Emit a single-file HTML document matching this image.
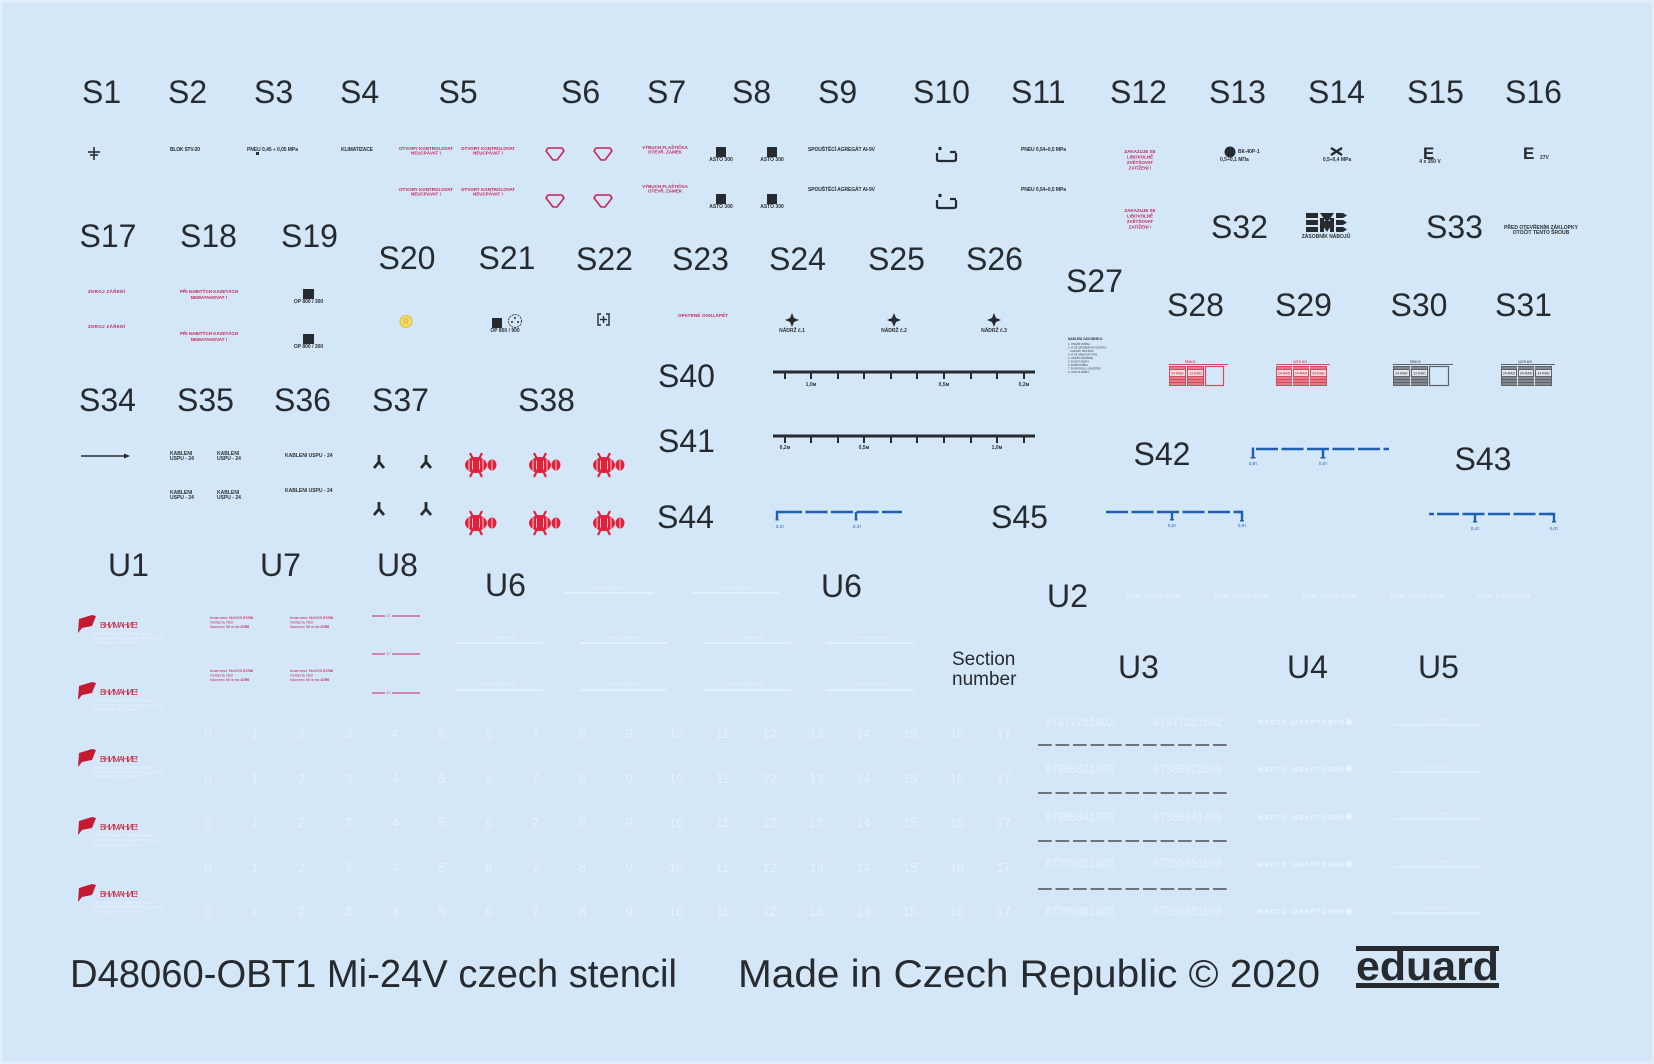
<!DOCTYPE html>
<html><head><meta charset="utf-8"><style>
html,body{margin:0;padding:0;background:#d4e7f8}
svg{display:block}
.L{font-family:"Liberation Sans",sans-serif;font-size:32px;fill:#272b30}
.t{font-family:"Liberation Sans",sans-serif;font-size:5px;fill:#2b2f33;font-weight:bold}
.r{font-family:"Liberation Sans",sans-serif;font-size:4.5px;fill:#c8245a;font-weight:bold}
.n{font-family:"Liberation Sans",sans-serif;font-size:13px;fill:#e6f1fb;text-anchor:middle}
.bt{font-family:"Liberation Sans",sans-serif;font-size:4.5px;fill:#1f5fae;text-anchor:middle}
</style></head><body>
<svg width="1654" height="1064" viewBox="0 0 1654 1064" xmlns="http://www.w3.org/2000/svg">
<rect x="0" y="0" width="1654" height="1064" fill="#d4e7f8"/>
<rect x="1" y="1" width="1652" height="1062" fill="none" stroke="#e2effb" stroke-width="2.5"/>

<!-- Row 1 labels -->
<text class="L" x="82" y="103">S1</text>
<text class="L" x="168" y="103">S2</text>
<text class="L" x="254" y="103">S3</text>
<text class="L" x="340" y="103">S4</text>
<text class="L" x="438.5" y="103">S5</text>
<text class="L" x="561" y="103">S6</text>
<text class="L" x="647" y="103">S7</text>
<text class="L" x="732" y="103">S8</text>
<text class="L" x="818" y="103">S9</text>
<text class="L" x="913" y="103">S10</text>
<text class="L" x="1011" y="103">S11</text>
<text class="L" x="1110" y="103">S12</text>
<text class="L" x="1209" y="103">S13</text>
<text class="L" x="1308" y="103">S14</text>
<text class="L" x="1407" y="103">S15</text>
<text class="L" x="1505" y="103">S16</text>

<!-- Row 1 items -->
<g stroke="#2b2f33" stroke-width="1.6">
<line x1="94" y1="147" x2="94" y2="160"/><line x1="88" y1="152" x2="100" y2="152"/><line x1="90" y1="155" x2="98" y2="155"/>
</g>
<text class="t" x="170" y="151" textLength="30">BLOK STV-20</text>
<text class="t" x="247" y="151" textLength="51">PNEU 0,45 ÷ 0,05 MPa</text>
<rect x="256" y="152" width="3" height="3" fill="#2b2f33"/>
<text class="t" x="341" y="151" textLength="32">KLIMATIZACE</text>
<g class="r" text-anchor="middle" font-size="3.8">
<text x="426" y="150">OTVORY KONTROLOVAT</text><text x="426" y="154.5">NEUCPÁVAT !</text>
<text x="488" y="150">OTVORY KONTROLOVAT</text><text x="488" y="154.5">NEUCPÁVAT !</text>
<text x="426" y="191">OTVORY KONTROLOVAT</text><text x="426" y="195.5">NEUCPÁVAT !</text>
<text x="488" y="191">OTVORY KONTROLOVAT</text><text x="488" y="195.5">NEUCPÁVAT !</text>
<text x="665" y="149">VÝBUCH FLAŠTIČKA</text><text x="665" y="153.5">OTEVŘ. ZÁMEK</text>
<text x="665" y="188">VÝBUCH FLAŠTIČKA</text><text x="665" y="192.5">OTEVŘ. ZÁMEK</text>
</g>
<g fill="none" stroke="#c8245a" stroke-width="1.6" stroke-linejoin="round">
<polygon points="548,148 562,148 564,151 557,160 553,160 546,151"/>
<polygon points="596,148 610,148 612,151 605,160 601,160 594,151"/>
<polygon points="548,195 562,195 564,198 557,207 553,207 546,198"/>
<polygon points="596,195 610,195 612,198 605,207 601,207 594,198"/>
</g>
<g fill="#272b30">
<rect x="716" y="147" width="10" height="10"/><rect x="767" y="147" width="10" height="10"/>
<rect x="716" y="194" width="10" height="10"/><rect x="767" y="194" width="10" height="10"/>
</g>
<g class="t" font-size="3" text-anchor="middle">
<text x="721" y="161">ASTO 300</text><text x="772" y="161">ASTO 300</text>
<text x="721" y="208">ASTO 300</text><text x="772" y="208">ASTO 300</text>
</g>
<text class="t" x="808" y="151" textLength="67">SPOUŠTĚCÍ AGREGÁT  AI-9V</text>
<text class="t" x="808" y="191" textLength="67">SPOUŠTĚCÍ AGREGÁT  AI-9V</text>
<g fill="none" stroke="#272b30" stroke-width="2.2">
<path d="M937,153 L937,159 Q937,161 939,161 L954,161 Q956,161 956,159 L956,153"/>
<line x1="950" y1="152" x2="956" y2="152"/>
<path d="M937,200 L937,206 Q937,208 939,208 L954,208 Q956,208 956,206 L956,200"/>
<line x1="950" y1="199" x2="956" y2="199"/>
</g>
<circle cx="940" cy="148.5" r="1.7" fill="#272b30"/><circle cx="940" cy="195.5" r="1.7" fill="#272b30"/>
<text class="t" x="1021" y="151" textLength="45">PNEU 0,54÷0,5 MPa</text>
<text class="t" x="1021" y="191" textLength="45">PNEU 0,54÷0,5 MPa</text>
<g class="r" text-anchor="middle" font-size="5.5">
<text x="1140" y="153">ZAKAZUJE SE</text><text x="1140" y="158.5">LIBOVOLNĚ</text><text x="1140" y="164">ZVĚTŠOVAT</text><text x="1140" y="169.5">ZATÍŽENÍ !</text>
<text x="1140" y="212">ZAKAZUJE SE</text><text x="1140" y="217.5">LIBOVOLNĚ</text><text x="1140" y="223">ZVĚTŠOVAT</text><text x="1140" y="228.5">ZATÍŽENÍ !</text>
</g>
<circle cx="1230" cy="152" r="5.5" fill="#272b30"/>
<text class="t" font-size="3" x="1238" y="153">ВК-40Р-1</text>
<text class="t" font-size="3" x="1220" y="161">0,5+0,1 МПа</text>
<g stroke="#272b30" stroke-width="2.4"><line x1="1331" y1="148" x2="1342" y2="155"/><line x1="1342" y1="148" x2="1331" y2="155"/></g>
<text class="t" font-size="3" x="1337" y="161" text-anchor="middle">0,5÷0,4 MPa</text>
<text x="1423" y="159" font-family="Liberation Sans" font-weight="bold" font-size="17" fill="#272b30">E</text>
<text class="t" font-size="3" x="1430" y="163" text-anchor="middle">4 x 350 V</text>
<text x="1523" y="159" font-family="Liberation Sans" font-weight="bold" font-size="17" fill="#272b30">E</text>
<text class="t" font-size="3" x="1540" y="159">27V</text>

<!-- Row 2 labels -->
<text class="L" x="79.5" y="247">S17</text>
<text class="L" x="180" y="247">S18</text>
<text class="L" x="281" y="247">S19</text>
<text class="L" x="378.5" y="269">S20</text>
<text class="L" x="478.5" y="269">S21</text>
<text class="L" x="576" y="270">S22</text>
<text class="L" x="672" y="270">S23</text>
<text class="L" x="769" y="270">S24</text>
<text class="L" x="868" y="270">S25</text>
<text class="L" x="966" y="270">S26</text>
<text class="L" x="1066" y="292">S27</text>
<text class="L" x="1167" y="316">S28</text>
<text class="L" x="1275" y="316">S29</text>
<text class="L" x="1390.5" y="316">S30</text>
<text class="L" x="1495" y="316">S31</text>
<text class="L" x="1211" y="238">S32</text>
<text class="L" x="1426" y="238">S33</text>

<!-- Row 2 items -->
<text class="r" font-size="5.5" x="88" y="293" textLength="37">ZDROJ  ZÁŘENÍ</text>
<text class="r" font-size="5.5" x="88" y="328" textLength="37">ZDROJ  ZÁŘENÍ</text>
<g class="r" font-size="5.5" text-anchor="middle">
<text x="209" y="293">PŘI NABITÝCH KAZETÁCH</text><text x="209" y="299">NEMATAHOVAT !</text>
<text x="209" y="335">PŘI NABITÝCH KAZETÁCH</text><text x="209" y="341">NEMATAHOVAT !</text>
</g>
<rect x="303" y="289" width="11" height="10" fill="#272b30"/>
<rect x="303" y="334" width="11" height="10" fill="#272b30"/>
<text class="t" font-size="3" x="308.5" y="303" text-anchor="middle">OP 800 / 300</text>
<text class="t" font-size="3" x="308.5" y="348" text-anchor="middle">OP 800 / 300</text>
<circle cx="406" cy="321.5" r="6" fill="#f2dc6a" stroke="#dcbc34" stroke-width="1"/>
<text x="406" y="324.5" font-family="Liberation Sans" font-size="8" fill="#d8a820" text-anchor="middle">R</text>
<rect x="492" y="318" width="10" height="10" fill="#272b30"/>
<circle cx="515" cy="321" r="6.5" fill="none" stroke="#272b30" stroke-width="0.9" stroke-dasharray="2 1"/>
<circle cx="515" cy="318" r="1" fill="#272b30"/><circle cx="512" cy="322" r="1" fill="#272b30"/><circle cx="518" cy="322" r="1" fill="#272b30"/>
<text class="t" font-size="3" x="505" y="332" text-anchor="middle">OP 800 / 900</text>
<g fill="none" stroke="#272b30" stroke-width="1.4">
<path d="M601,314 L598,314 L598,325 L601,325"/><path d="M606,314 L609,314 L609,325 L606,325"/>
<line x1="603.5" y1="316" x2="603.5" y2="323"/><line x1="600" y1="319.5" x2="607" y2="319.5"/>
</g>
<text class="r" font-size="5.5" x="678" y="317" textLength="50">OPATRNĚ OOKLÁPĚT</text>
<g fill="#272b30">
<path d="M792,313 L794,318 L799,320 L794,322 L792,327 L790,322 L785,320 L790,318 Z"/>
<path d="M894,313 L896,318 L901,320 L896,322 L894,327 L892,322 L887,320 L892,318 Z"/>
<path d="M994,313 L996,318 L1001,320 L996,322 L994,327 L992,322 L987,320 L992,318 Z"/>
</g>
<g class="t" font-size="3" text-anchor="middle">
<text x="792" y="332">NÁDRŽ č.1</text><text x="894" y="332">NÁDRŽ č.2</text><text x="994" y="332">NÁDRŽ č.3</text>
</g>
<!-- S32 -->
<g fill="#272b30">
<rect x="1306" y="213" width="12" height="5"/><rect x="1306" y="220" width="12" height="5"/><rect x="1306" y="227" width="12" height="5"/>
<path d="M1320,213 L1334,213 L1327,223 Z"/><path d="M1320,221 L1334,221 L1327,232 Z"/>
<rect x="1320" y="218" width="4" height="14"/><rect x="1330" y="218" width="4" height="14"/>
<path d="M1336,213 L1343,213 L1347,215.5 L1343,218 L1336,218 Z"/>
<path d="M1336,220 L1343,220 L1347,222.5 L1343,225 L1336,225 Z"/>
<path d="M1336,227 L1343,227 L1347,229.5 L1343,232 L1336,232 Z"/>
</g>
<text class="t" font-size="3" x="1326" y="238" text-anchor="middle">ZÁSOBNÍK NÁBOJŮ</text>
<g class="t" font-size="3.5" text-anchor="middle">
<text x="1541" y="229">PŘED OTEVŘENÍM ZÁKLOPKY</text><text x="1541" y="234">OTOČIT TENTO ŠROUB</text>
</g>
<!-- S27 block -->
<g font-family="Liberation Sans" font-size="2.5" fill="#33373b">
<text x="1068" y="340" font-size="3.2" font-weight="bold">NABLENI  ZÁSOBNÍKU:</text>
<text x="1068" y="345">1. OTEVŘI DVÍŘKA</text>
<text x="1068" y="348.5">2. VLOŽ ZÁSOBNÍK NA VODÍTKA</text>
<text x="1070" y="352">A ZAJISTI SPOJKOU</text>
<text x="1068" y="355.5">3. VLOŽ NÁBOJOVÝ PÁS</text>
<text x="1068" y="359">4. UZAVŘI ZÁSOBNÍK</text>
<text x="1068" y="362.5">5. ZAJISTI ZÁMKY</text>
<text x="1068" y="366">6. ZAVŘI DVÍŘKA</text>
<text x="1068" y="369.5">7. ZKONTROLUJ ZAJIŠTĚNÍ</text>
<text x="1068" y="373">8. UVOLNI ZÁMKY</text>
</g>
<!-- S28-S31 ammo boxes -->
<g font-family="Liberation Sans" font-size="3.5" font-weight="bold">
<g>
<text x="1190" y="363" fill="#d64a5c" text-anchor="middle">750KG</text>
<line x1="1169" y1="364.5" x2="1228" y2="364.5" stroke="#d64a5c" stroke-width="1"/>
<rect x="1169" y="366" width="17" height="20" fill="#d64a5c"/><rect x="1187" y="366" width="17" height="20" fill="#d64a5c"/>
<rect x="1205.5" y="366.5" width="18" height="19" fill="none" stroke="#d64a5c" stroke-width="1.2"/>
<g stroke="#f4c8d0" stroke-width="0.8"><line x1="1170" y1="368" x2="1185" y2="368"/><line x1="1170" y1="378" x2="1185" y2="378"/><line x1="1170" y1="381" x2="1185" y2="381"/><line x1="1170" y1="384" x2="1185" y2="384"/><line x1="1188" y1="368" x2="1203" y2="368"/><line x1="1188" y1="378" x2="1203" y2="378"/><line x1="1188" y1="381" x2="1203" y2="381"/><line x1="1188" y1="384" x2="1203" y2="384"/></g>
<rect x="1170" y="370" width="15" height="6" fill="#f3dde2"/><rect x="1188" y="370" width="15" height="6" fill="#f3dde2"/>
<text x="1177.5" y="374.5" fill="#d64a5c" text-anchor="middle">24 RAD</text><text x="1195.5" y="374.5" fill="#d64a5c" text-anchor="middle">12 RAD</text>
</g>
<g>
<text x="1300" y="363" fill="#d64a5c" text-anchor="middle">1270 KG</text>
<line x1="1276" y1="364.5" x2="1330" y2="364.5" stroke="#d64a5c" stroke-width="1"/>
<rect x="1276" y="366" width="16" height="20" fill="#d64a5c"/><rect x="1293" y="366" width="16" height="20" fill="#d64a5c"/><rect x="1310" y="366" width="17" height="20" fill="#d64a5c"/>
<g stroke="#f4c8d0" stroke-width="0.8"><line x1="1277" y1="378" x2="1326" y2="378"/><line x1="1277" y1="381" x2="1326" y2="381"/><line x1="1277" y1="384" x2="1326" y2="384"/><line x1="1277" y1="368" x2="1326" y2="368"/></g>
<rect x="1277" y="370" width="14" height="6" fill="#f3dde2"/><rect x="1294" y="370" width="14" height="6" fill="#f3dde2"/><rect x="1311" y="370" width="15" height="6" fill="#f3dde2"/>
<text x="1284" y="374.5" fill="#d64a5c" text-anchor="middle">24 RAD</text><text x="1301" y="374.5" fill="#d64a5c" text-anchor="middle">24 RAD</text><text x="1318.5" y="374.5" fill="#d64a5c" text-anchor="middle">24 RAD</text>
</g>
<g>
<text x="1415" y="363" fill="#5c6268" text-anchor="middle">750KG</text>
<line x1="1393" y1="364.5" x2="1453" y2="364.5" stroke="#5c6268" stroke-width="1"/>
<rect x="1393" y="366" width="17" height="20" fill="#5c6268"/><rect x="1411" y="366" width="17" height="20" fill="#5c6268"/>
<rect x="1429.5" y="366.5" width="19" height="19" fill="none" stroke="#5c6268" stroke-width="1.2"/>
<g stroke="#c9ced3" stroke-width="0.8"><line x1="1394" y1="368" x2="1427" y2="368"/><line x1="1394" y1="378" x2="1427" y2="378"/><line x1="1394" y1="381" x2="1427" y2="381"/><line x1="1394" y1="384" x2="1427" y2="384"/></g>
<rect x="1394" y="370" width="15" height="6" fill="#e4e8ec"/><rect x="1412" y="370" width="15" height="6" fill="#e4e8ec"/>
<text x="1401.5" y="374.5" fill="#5c6268" text-anchor="middle">24 RAD</text><text x="1419.5" y="374.5" fill="#5c6268" text-anchor="middle">12 RAD</text>
</g>
<g>
<text x="1525" y="363" fill="#5c6268" text-anchor="middle">1270 KG</text>
<line x1="1501" y1="364.5" x2="1555" y2="364.5" stroke="#5c6268" stroke-width="1"/>
<rect x="1501" y="366" width="16" height="20" fill="#5c6268"/><rect x="1518" y="366" width="16" height="20" fill="#5c6268"/><rect x="1535" y="366" width="17" height="20" fill="#5c6268"/>
<g stroke="#c9ced3" stroke-width="0.8"><line x1="1502" y1="368" x2="1551" y2="368"/><line x1="1502" y1="378" x2="1551" y2="378"/><line x1="1502" y1="381" x2="1551" y2="381"/><line x1="1502" y1="384" x2="1551" y2="384"/></g>
<rect x="1502" y="370" width="14" height="6" fill="#e4e8ec"/><rect x="1519" y="370" width="14" height="6" fill="#e4e8ec"/><rect x="1536" y="370" width="15" height="6" fill="#e4e8ec"/>
<text x="1509" y="374.5" fill="#5c6268" text-anchor="middle">24 RAD</text><text x="1526" y="374.5" fill="#5c6268" text-anchor="middle">24 RAD</text><text x="1543.5" y="374.5" fill="#5c6268" text-anchor="middle">24 RAD</text>
</g>
</g>

<!-- Row 3 labels -->
<text class="L" x="79" y="411">S34</text>
<text class="L" x="177" y="411">S35</text>
<text class="L" x="274" y="411">S36</text>
<text class="L" x="372" y="411">S37</text>
<text class="L" x="518" y="411">S38</text>
<text class="L" x="658" y="387">S40</text>
<text class="L" x="658" y="452">S41</text>
<text class="L" x="657" y="528">S44</text>
<text class="L" x="991" y="528">S45</text>
<text class="L" x="1133.5" y="465">S42</text>
<text class="L" x="1454.5" y="470">S43</text>

<!-- S34 arrow -->
<line x1="81" y1="456" x2="126" y2="456" stroke="#272b30" stroke-width="1.5"/>
<path d="M124,453.5 L130,456 L124,458.5 Z" fill="#272b30"/>
<!-- S35 / S36 -->
<g class="t" font-size="3.5">
<text x="170" y="455">KABLENI</text><text x="170" y="460">USPU - 24</text>
<text x="217" y="455">KABLENI</text><text x="217" y="460">USPU - 24</text>
<text x="170" y="494">KABLENI</text><text x="170" y="499">USPU - 24</text>
<text x="217" y="494">KABLENI</text><text x="217" y="499">USPU - 24</text>
<text x="285" y="457">KABLENI USPU - 24</text>
<text x="285" y="492">KABLENI USPU - 24</text>
</g>
<!-- S37 -->
<g fill="none" stroke="#272b30" stroke-width="2.8">
<path d="M379,455 L379,462 L374,468 M379,462 L384,468"/>
<path d="M426,455 L426,462 L421,468 M426,462 L431,468"/>
<path d="M379,502 L379,509 L374,515 M379,509 L384,515"/>
<path d="M426,502 L426,509 L421,515 M426,509 L431,515"/>
</g>
<!-- S38 -->
<defs>
<g id="bomb">
<ellipse cx="11" cy="0" rx="11" ry="8" fill="#e0203c"/>
<g stroke="#f4c6cc" stroke-width="1"><line x1="4" y1="-6" x2="4" y2="6"/><line x1="7.5" y1="-7.5" x2="7.5" y2="7.5"/><line x1="14.5" y1="-7.5" x2="14.5" y2="7.5"/><line x1="18" y1="-6" x2="18" y2="6"/></g>
<ellipse cx="27" cy="0" rx="4.5" ry="5.5" fill="#e0203c"/>
<line x1="27" y1="-5" x2="27" y2="5" stroke="#f4c6cc" stroke-width="1"/>
<g stroke="#e0203c" stroke-width="2.2"><line x1="5" y1="-12" x2="17" y2="12"/><line x1="17" y1="-12" x2="5" y2="12"/></g>
</g>
</defs>
<use href="#bomb" x="465" y="465"/><use href="#bomb" x="529" y="465"/><use href="#bomb" x="593" y="465"/>
<use href="#bomb" x="465" y="523"/><use href="#bomb" x="529" y="523"/><use href="#bomb" x="593" y="523"/>

<!-- S40 / S41 rulers -->
<g stroke="#272b30">
<line x1="773" y1="372" x2="1035" y2="372" stroke-width="3"/>
<line x1="773" y1="436" x2="1035" y2="436" stroke-width="3"/>
<g stroke-width="2">
<line x1="785" y1="372" x2="785" y2="379"/><line x1="811" y1="372" x2="811" y2="379"/><line x1="838" y1="372" x2="838" y2="379"/><line x1="864" y1="372" x2="864" y2="379"/><line x1="891" y1="372" x2="891" y2="379"/><line x1="917" y1="372" x2="917" y2="379"/><line x1="944" y1="372" x2="944" y2="379"/><line x1="971" y1="372" x2="971" y2="379"/><line x1="997" y1="372" x2="997" y2="379"/><line x1="1024" y1="372" x2="1024" y2="379"/>
<line x1="785" y1="436" x2="785" y2="443"/><line x1="811" y1="436" x2="811" y2="443"/><line x1="838" y1="436" x2="838" y2="443"/><line x1="864" y1="436" x2="864" y2="443"/><line x1="891" y1="436" x2="891" y2="443"/><line x1="917" y1="436" x2="917" y2="443"/><line x1="944" y1="436" x2="944" y2="443"/><line x1="971" y1="436" x2="971" y2="443"/><line x1="997" y1="436" x2="997" y2="443"/><line x1="1024" y1="436" x2="1024" y2="443"/>
</g>
</g>
<g class="t" font-size="4.5" text-anchor="middle">
<text x="811" y="386">1,0м</text><text x="944" y="386">0,5м</text><text x="1024" y="386">0,2м</text>
<text x="785" y="449">0,2м</text><text x="864" y="449">0,5м</text><text x="997" y="449">1,0м</text>
</g>

<!-- Blue rulers -->
<g stroke="#1f5fae" fill="none">
<line x1="780" y1="512" x2="902" y2="512" stroke-width="2.6" stroke-dasharray="22 3.5"/>
<path d="M777,520 L777,512 L781,512" stroke-width="2.4"/>
<line x1="856" y1="512" x2="856" y2="520" stroke-width="2.4"/>
<line x1="1256" y1="449" x2="1389" y2="449" stroke-width="2.6" stroke-dasharray="22 3.5"/>
<line x1="1253" y1="447.5" x2="1253" y2="458" stroke-width="2.4"/>
<line x1="1323" y1="449" x2="1323" y2="458" stroke-width="2.4"/>
<line x1="1106" y1="512" x2="1241" y2="512" stroke-width="2.6" stroke-dasharray="22 3.5"/>
<line x1="1172" y1="512" x2="1172" y2="520" stroke-width="2.4"/>
<path d="M1238,512 L1242,512 L1242,521" stroke-width="2.4"/>
<line x1="1429" y1="514" x2="1553" y2="514" stroke-width="2.6" stroke-dasharray="5 3 22 3.5 22 3.5 22 3.5 22 3.5 22 3.5"/>
<line x1="1475" y1="514" x2="1475" y2="522" stroke-width="2.4"/>
<path d="M1549,514 L1554,514 L1554,522" stroke-width="2.4"/>
</g>
<g fill="#1f5fae">
<rect x="775.5" y="519" width="3" height="1.5"/><rect x="854.5" y="519" width="3" height="1.5"/>
<rect x="1250.5" y="457" width="5" height="1.5"/><rect x="1320.5" y="457" width="5" height="1.5"/>
<rect x="1170" y="519" width="4" height="1.5"/><rect x="1240" y="520" width="4" height="1.5"/>
<rect x="1473" y="521" width="4" height="1.5"/><rect x="1552" y="521" width="4" height="1.5"/>
</g>
<g class="bt">
<text x="780" y="528">0,3т</text><text x="857" y="528">0,4т</text>
<text x="1253" y="465">0,8т</text><text x="1323" y="465">0,6т</text>
<text x="1172" y="527">0,6т</text><text x="1242" y="527">0,8т</text>
<text x="1475" y="530">0,4т</text><text x="1554" y="530">0,3т</text>
</g>

<!-- U labels -->
<text class="L" x="108" y="576">U1</text>
<text class="L" x="260" y="576">U7</text>
<text class="L" x="377" y="576">U8</text>
<text class="L" x="485" y="596">U6</text>
<text class="L" x="821" y="597">U6</text>
<text class="L" x="1047" y="607">U2</text>
<text class="L" x="1118" y="678">U3</text>
<text class="L" x="1287" y="678">U4</text>
<text class="L" x="1418" y="678">U5</text>
<text x="952" y="665" font-family="Liberation Sans" font-size="19" fill="#272b30">Section</text>
<text x="952" y="685" font-family="Liberation Sans" font-size="19" fill="#272b30">number</text>

<!-- U1 warnings -->
<defs>
<g id="warn">
<path d="M2,4 L15,0 L19,1 L15,11 L5,13 L1,18 Z" fill="#c41a32"/>
<text x="23" y="13" font-family="Liberation Sans" font-size="8" fill="#c41a32" textLength="38">ВНИМАНИЕ!</text>
<g font-family="Liberation Sans" font-size="3.6" fill="#e8f2fc">
<text x="17" y="20">ПРИ ОТКРЫТИИ СТВОРОК ЛЮКА</text>
<text x="17" y="24.5">ВОЗМОЖНО ВЫПАДЕНИЕ ПРЕДМЕТОВ</text>
<text x="17" y="29">ОТКРЫВАТЬ ОСТОРОЖНО</text>
</g>
</g>
</defs>
<use href="#warn" x="77" y="615"/><use href="#warn" x="77" y="682"/><use href="#warn" x="77" y="749"/><use href="#warn" x="77" y="817"/><use href="#warn" x="77" y="884"/>

<!-- U7 -->
<defs>
<g id="u7" font-family="Liberation Sans" font-size="4" fill="#c8245a">
<text x="0" y="3">Комплект №4905 <tspan font-weight="bold">07/06</tspan></text>
<text x="0" y="7.5">Лопасть  №3</text>
<text x="0" y="12">Кассета  № пгна <tspan font-weight="bold">4750</tspan></text>
</g>
</defs>
<use href="#u7" x="210" y="616"/><use href="#u7" x="290" y="616"/>
<use href="#u7" x="210" y="669"/><use href="#u7" x="290" y="669"/>
<!-- U8 -->
<g stroke="#c8245a" stroke-width="1">
<line x1="372" y1="616" x2="385" y2="616"/><line x1="392" y1="616" x2="420" y2="616"/>
<line x1="372" y1="654" x2="385" y2="654"/><line x1="392" y1="654" x2="420" y2="654"/>
<line x1="372" y1="693" x2="385" y2="693"/><line x1="392" y1="693" x2="420" y2="693"/>
</g>
<g font-family="Liberation Sans" font-size="3.5" fill="#c8245a" text-anchor="middle">
<text x="388.5" y="617.2">17</text><text x="388.5" y="655.2">17</text><text x="388.5" y="694.2">17</text>
</g>
<!-- U6 white lines -->
<g stroke="#eaf4fd" stroke-width="1.2">
<line x1="564" y1="593" x2="654" y2="593"/><line x1="691" y1="593" x2="779" y2="593"/>
<line x1="456" y1="643" x2="543" y2="643"/><line x1="580" y1="643" x2="667" y2="643"/><line x1="704" y1="643" x2="791" y2="643"/><line x1="826" y1="643" x2="914" y2="643"/>
<line x1="456" y1="690" x2="543" y2="690"/><line x1="580" y1="690" x2="667" y2="690"/><line x1="704" y1="690" x2="791" y2="690"/><line x1="826" y1="690" x2="914" y2="690"/>
</g>
<g font-family="Liberation Sans" font-size="4.5" fill="#e8f2fc" text-anchor="middle">
<text x="609" y="589">ОТС. 4(КОМ №)</text><text x="735" y="589">ОТС. 4(КОМ №)</text>
<text x="499" y="639">ОТС. 4(КОМ №)</text><text x="623" y="639">ОТС. 4(КОМ №)</text><text x="747" y="639">ОТС. 4(КОМ №)</text><text x="870" y="639">ОТС. 4(КОМ №)</text>
<text x="499" y="686">ОТС. 4(КОМ №)</text><text x="623" y="686">ОТС. 4(КОМ №)</text><text x="747" y="686">ОТС. 4(КОМ №)</text><text x="870" y="686">ОТС. 4(КОМ №)</text>
</g>
<!-- U2 -->
<g font-family="Liberation Sans" font-size="6.5" font-weight="bold" fill="#e6f1fb">
<text x="1126" y="598" textLength="54">№№ ОТСЕКОВ</text>
<text x="1214" y="598" textLength="54">№№ ОТСЕКОВ</text>
<text x="1302" y="598" textLength="54">№№ ОТСЕКОВ</text>
<text x="1390" y="598" textLength="54">№№ ОТСЕКОВ</text>
<text x="1477" y="598" textLength="54">№№ ОТСЕКОВ</text>
</g>

<!-- Number grid -->
<g class="n">
<text x="208" y="738">0</text><text x="254.8" y="738">1</text><text x="301.6" y="738">2</text><text x="348.4" y="738">3</text><text x="395.2" y="738">4</text><text x="442" y="738">5</text><text x="488.8" y="738">6</text><text x="535.6" y="738">7</text><text x="582.4" y="738">8</text><text x="629.2" y="738">9</text><text x="676" y="738">10</text><text x="722.8" y="738">11</text><text x="769.6" y="738">12</text><text x="816.4" y="738">13</text><text x="863.2" y="738">14</text><text x="910" y="738">15</text><text x="956.8" y="738">16</text><text x="1003.6" y="738">17</text>
<text x="208" y="783">0</text><text x="254.8" y="783">1</text><text x="301.6" y="783">2</text><text x="348.4" y="783">3</text><text x="395.2" y="783">4</text><text x="442" y="783">5</text><text x="488.8" y="783">6</text><text x="535.6" y="783">7</text><text x="582.4" y="783">8</text><text x="629.2" y="783">9</text><text x="676" y="783">10</text><text x="722.8" y="783">11</text><text x="769.6" y="783">12</text><text x="816.4" y="783">13</text><text x="863.2" y="783">14</text><text x="910" y="783">15</text><text x="956.8" y="783">16</text><text x="1003.6" y="783">17</text>
<text x="208" y="827">0</text><text x="254.8" y="827">1</text><text x="301.6" y="827">2</text><text x="348.4" y="827">3</text><text x="395.2" y="827">4</text><text x="442" y="827">5</text><text x="488.8" y="827">6</text><text x="535.6" y="827">7</text><text x="582.4" y="827">8</text><text x="629.2" y="827">9</text><text x="676" y="827">10</text><text x="722.8" y="827">11</text><text x="769.6" y="827">12</text><text x="816.4" y="827">13</text><text x="863.2" y="827">14</text><text x="910" y="827">15</text><text x="956.8" y="827">16</text><text x="1003.6" y="827">17</text>
<text x="208" y="872">0</text><text x="254.8" y="872">1</text><text x="301.6" y="872">2</text><text x="348.4" y="872">3</text><text x="395.2" y="872">4</text><text x="442" y="872">5</text><text x="488.8" y="872">6</text><text x="535.6" y="872">7</text><text x="582.4" y="872">8</text><text x="629.2" y="872">9</text><text x="676" y="872">10</text><text x="722.8" y="872">11</text><text x="769.6" y="872">12</text><text x="816.4" y="872">13</text><text x="863.2" y="872">14</text><text x="910" y="872">15</text><text x="956.8" y="872">16</text><text x="1003.6" y="872">17</text>
<text x="208" y="916">0</text><text x="254.8" y="916">1</text><text x="301.6" y="916">2</text><text x="348.4" y="916">3</text><text x="395.2" y="916">4</text><text x="442" y="916">5</text><text x="488.8" y="916">6</text><text x="535.6" y="916">7</text><text x="582.4" y="916">8</text><text x="629.2" y="916">9</text><text x="676" y="916">10</text><text x="722.8" y="916">11</text><text x="769.6" y="916">12</text><text x="816.4" y="916">13</text><text x="863.2" y="916">14</text><text x="910" y="916">15</text><text x="956.8" y="916">16</text><text x="1003.6" y="916">17</text>
</g>

<!-- U3 serials -->
<g font-family="Liberation Sans" font-size="12" fill="#e8f2fc">
<text x="1045" y="726" textLength="69" lengthAdjust="spacingAndGlyphs">87377281602</text><text x="1153" y="726" textLength="69" lengthAdjust="spacingAndGlyphs">87377281602</text>
<text x="1045" y="773" textLength="69" lengthAdjust="spacingAndGlyphs">87365821608</text><text x="1153" y="773" textLength="69" lengthAdjust="spacingAndGlyphs">87365821608</text>
<text x="1045" y="821" textLength="69" lengthAdjust="spacingAndGlyphs">87385841708</text><text x="1153" y="821" textLength="69" lengthAdjust="spacingAndGlyphs">87385841708</text>
<text x="1045" y="867" textLength="69" lengthAdjust="spacingAndGlyphs">87355851608</text><text x="1153" y="867" textLength="69" lengthAdjust="spacingAndGlyphs">87355851608</text>
<text x="1045" y="915" textLength="69" lengthAdjust="spacingAndGlyphs">87395881608</text><text x="1153" y="915" textLength="69" lengthAdjust="spacingAndGlyphs">87395881608</text>
</g>
<g stroke="#4a4f55" stroke-width="1.5" stroke-dasharray="13.7 3.8">
<line x1="1038" y1="745" x2="1229" y2="745"/><line x1="1038" y1="793" x2="1229" y2="793"/><line x1="1038" y1="841" x2="1229" y2="841"/><line x1="1038" y1="889" x2="1229" y2="889"/>
</g>
<!-- U4 -->
<g font-family="Liberation Sans" font-size="6.5" font-weight="bold" fill="#eaf4fd">
<text x="1258" y="724.5" textLength="86">МЕСТО ШВАРТОВКИ</text>
<text x="1258" y="771.5" textLength="86">МЕСТО ШВАРТОВКИ</text>
<text x="1258" y="819.5" textLength="86">МЕСТО ШВАРТОВКИ</text>
<text x="1258" y="866.5" textLength="86">МЕСТО ШВАРТОВКИ</text>
<text x="1258" y="913.5" textLength="86">МЕСТО ШВАРТОВКИ</text>
</g>
<g fill="#eaf4fd">
<path d="M1345,722 L1349,718 L1353,722 L1349,726 Z"/><path d="M1345,769 L1349,765 L1353,769 L1349,773 Z"/><path d="M1345,817 L1349,813 L1353,817 L1349,821 Z"/><path d="M1345,864 L1349,860 L1353,864 L1349,868 Z"/><path d="M1345,911 L1349,907 L1353,911 L1349,915 Z"/>
</g>
<!-- U5 -->
<g stroke="#eaf4fd" stroke-width="1.1">
<line x1="1393" y1="725" x2="1482" y2="725"/><line x1="1393" y1="772" x2="1482" y2="772"/><line x1="1393" y1="819" x2="1482" y2="819"/><line x1="1393" y1="867" x2="1482" y2="867"/><line x1="1393" y1="913" x2="1482" y2="913"/>
</g>
<g font-family="Liberation Sans" font-size="4" fill="#e8f2fc" text-anchor="middle">
<text x="1437" y="721">ОТС. СТРОК</text><text x="1437" y="768">ОТС. СТРОК</text><text x="1437" y="815">ОТС. СТРОК</text><text x="1437" y="863">ОТС. СТРОК</text><text x="1437" y="909">ОТС. СТРОК</text>
</g>

<!-- Footer -->
<text x="70" y="987" font-family="Liberation Sans" font-size="39" fill="#272b30" textLength="607" lengthAdjust="spacingAndGlyphs">D48060-OBT1 Mi-24V czech stencil</text>
<text x="738" y="987" font-family="Liberation Sans" font-size="39" fill="#272b30" textLength="582" lengthAdjust="spacingAndGlyphs">Made in Czech Republic  ©  2020</text>
<rect x="1356" y="946" width="143" height="5" fill="#272b30"/>
<rect x="1356" y="983" width="143" height="5" fill="#272b30"/>
<text x="1356" y="980" font-family="Liberation Sans" font-weight="bold" font-size="41" fill="#272b30" textLength="143" lengthAdjust="spacingAndGlyphs">eduard</text>
</svg>
</body></html>
